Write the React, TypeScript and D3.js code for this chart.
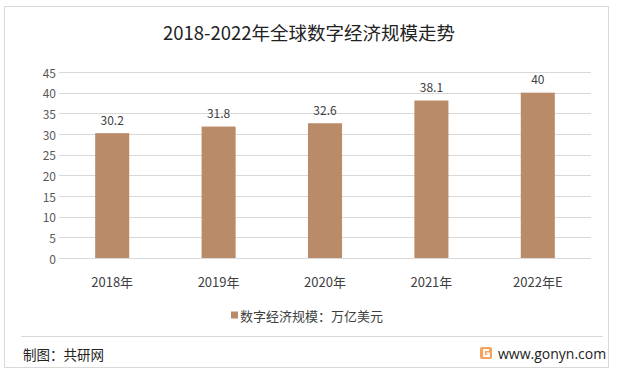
import React from "react";
import * as d3 from "d3";

const categories = ["2018年", "2019年", "2020年", "2021年", "2022年E"];
const values = [30.2, 31.8, 32.6, 38.1, 40];
const yTicks = [0, 5, 10, 15, 20, 25, 30, 35, 40, 45];
const title = "2018-2022年全球数字经济规模走势";
const seriesName = "数字经济规模：万亿美元";
const source = "制图：共研网";
const site = "www.gonyn.com";

const W = 617;
const H = 378;
const FONT = "'Noto Sans CJK SC', 'Noto Sans', sans-serif";

export default function App() {
  const x = d3.scaleBand<string>().domain(categories).range([59, 591]).paddingInner(0.68).paddingOuter(0.34);
  const y = d3.scaleLinear().domain([0, 45]).range([258, 72]);
  const barColor = "#b98b69";
  return (
    <svg width={W} height={H} style={{ position: "absolute", left: 0, top: 0, fontFamily: FONT }}>
      <rect x={0} y={0} width={W} height={H} fill="#fff" />
      <rect x={4.5} y={6.5} width={604} height={361} fill="#fff" stroke="#d9d9d9" strokeWidth={1} />
      <text x={309} y={32} textAnchor="middle" dominantBaseline="central" fontSize={18.5} fill="#222">
        {title}
      </text>
      {yTicks.map((t) => (
        <g key={t}>
          <line x1={59} x2={591} y1={Math.round(y(t)) + 0.5} y2={Math.round(y(t)) + 0.5} stroke="#d9d9d9" strokeWidth={1} />
          <text x={56} y={y(t)} textAnchor="end" dominantBaseline="central" fontSize={12} fill="#595959">
            {t}
          </text>
        </g>
      ))}
      {categories.map((c, i) => (
        <g key={c}>
          <rect x={x(c)!} y={y(values[i])} width={x.bandwidth()} height={y(0) - y(values[i])} fill={barColor} />
          <text x={x(c)! + x.bandwidth() / 2} y={y(values[i]) - 14} textAnchor="middle" dominantBaseline="central" fontSize={12} fill="#404040">
            {values[i]}
          </text>
          <text x={x(c)! + x.bandwidth() / 2} y={281} textAnchor="middle" dominantBaseline="central" fontSize={13} fill="#404040">
            {c}
          </text>
        </g>
      ))}
      <rect x={231} y={311.5} width={7} height={7} fill={barColor} />
      <text x={240} y={315} dominantBaseline="central" fontSize={13} fill="#404040">
        {seriesName}
      </text>
      <line x1={21} x2={603} y1={336.5} y2={336.5} stroke="#d9d9d9" strokeWidth={1} />
      <text x={23} y={354} dominantBaseline="central" fontSize={13.5} fill="#222">
        {source}
      </text>
      <g transform="translate(480,347)">
        <rect x={0} y={0} width={12} height={12} rx={2} fill="#f6a25b" />
        <path d="M9,3 H4 V9 H9 V6.5 H6.5" fill="none" stroke="#fff" strokeWidth={1.8} />
      </g>
      <text x={498} y={353} dominantBaseline="central" fontSize={14} fill="#222" fontFamily="'Open Sans', 'Noto Sans', sans-serif">
        {site}
      </text>
    </svg>
  );
}
